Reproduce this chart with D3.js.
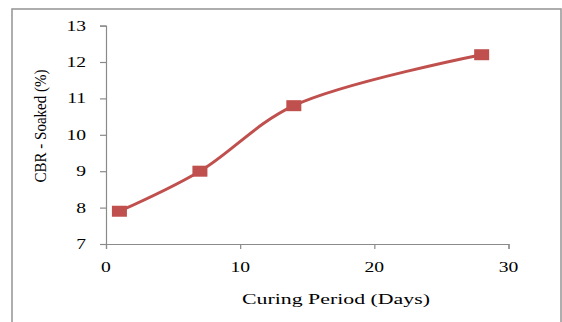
<!DOCTYPE html>
<html>
<head>
<meta charset="utf-8">
<script src="https://cdn.jsdelivr.net/npm/d3@7"></script>
<style>
  html, body { margin: 0; padding: 0; background: #fff; }
  svg { display: block; }
</style>
</head>
<body>
<svg id="chart" width="562" height="322" font-family="'Liberation Serif', 'DejaVu Serif', serif"></svg>
<script>
// Curing period (days) and soaked CBR (%)
const curingDays = [1, 7, 14, 28];
const cbrSoaked = [7.9, 9.0, 10.8, 12.2];
const xTicks = [0, 10, 20, 30];
const yTicks = [7, 8, 9, 10, 11, 12, 13];
const xTitle = "Curing Period (Days)";
const yTitle = "CBR - Soaked (%)";

const svg = d3.select("#chart");
const plot = { left: 106, right: 508.5, top: 25.6, bottom: 244 };
const stretch = 1.4; // text is drawn wide

// outer frame
svg.append("rect")
  .attr("x", 12).attr("y", 9)
  .attr("width", 549).attr("height", 340)
  .attr("fill", "none").attr("stroke", "#9a9a9a").attr("stroke-width", 1.6);

const x = d3.scaleLinear().domain([0, 30]).range([plot.left, plot.right]);
const y = d3.scaleLinear().domain([7, 13]).range([plot.bottom, plot.top]);

const axisColor = "#8a8a8a";

// y axis
const gy = svg.append("g").attr("transform", `translate(${plot.left},0)`)
  .call(d3.axisLeft(y).tickValues(yTicks).tickSize(6).tickFormat(""));
gy.selectAll("path, line").attr("stroke", axisColor).attr("stroke-width", 1.2);

// x axis
const gx = svg.append("g").attr("transform", `translate(0,${plot.bottom})`)
  .call(d3.axisBottom(x).tickValues(xTicks).tickSize(5).tickFormat(""));
gx.selectAll("path, line").attr("stroke", axisColor).attr("stroke-width", 1.2);

// tick labels
svg.append("g").selectAll("text").data(yTicks).join("text")
  .attr("transform", d => `translate(86,${y(d) + 5}) scale(${stretch},1)`)
  .attr("text-anchor", "end")
  .attr("font-size", 14)
  .attr("fill", "#000")
  .text(d => d);

svg.append("g").selectAll("text").data(xTicks).join("text")
  .attr("transform", d => `translate(${x(d)},${272}) scale(${stretch},1)`)
  .attr("text-anchor", "middle")
  .attr("font-size", 14)
  .attr("fill", "#000")
  .text(d => d);

// axis titles
svg.append("text")
  .attr("x", 336).attr("y", 304)
  .attr("text-anchor", "middle")
  .attr("font-size", 14)
  .attr("textLength", 188)
  .attr("lengthAdjust", "spacingAndGlyphs")
  .attr("fill", "#000")
  .text(xTitle);

svg.append("text")
  .attr("transform", `translate(46,126) rotate(-90)`)
  .attr("text-anchor", "middle")
  .attr("font-size", 17)
  .attr("textLength", 113)
  .attr("lengthAdjust", "spacingAndGlyphs")
  .attr("fill", "#000")
  .text(yTitle);

// series
const pts = curingDays.map((d, i) => [d, cbrSoaked[i]]);
const color = "#C0504D";

const line = d3.line()
  .x(d => x(d[0])).y(d => y(d[1]))
  .curve(d3.curveCatmullRom.alpha(0.5));

svg.append("path")
  .datum(pts)
  .attr("d", line)
  .attr("fill", "none")
  .attr("stroke", color)
  .attr("stroke-width", 3)
  .attr("stroke-linejoin", "round");

const mw = 15, mh = 11;
svg.append("g").selectAll("rect").data(pts).join("rect")
  .attr("x", d => x(d[0]) - mw / 2)
  .attr("y", d => y(d[1]) - mh / 2)
  .attr("width", mw).attr("height", mh)
  .attr("fill", color);
</script>
</body>
</html>
